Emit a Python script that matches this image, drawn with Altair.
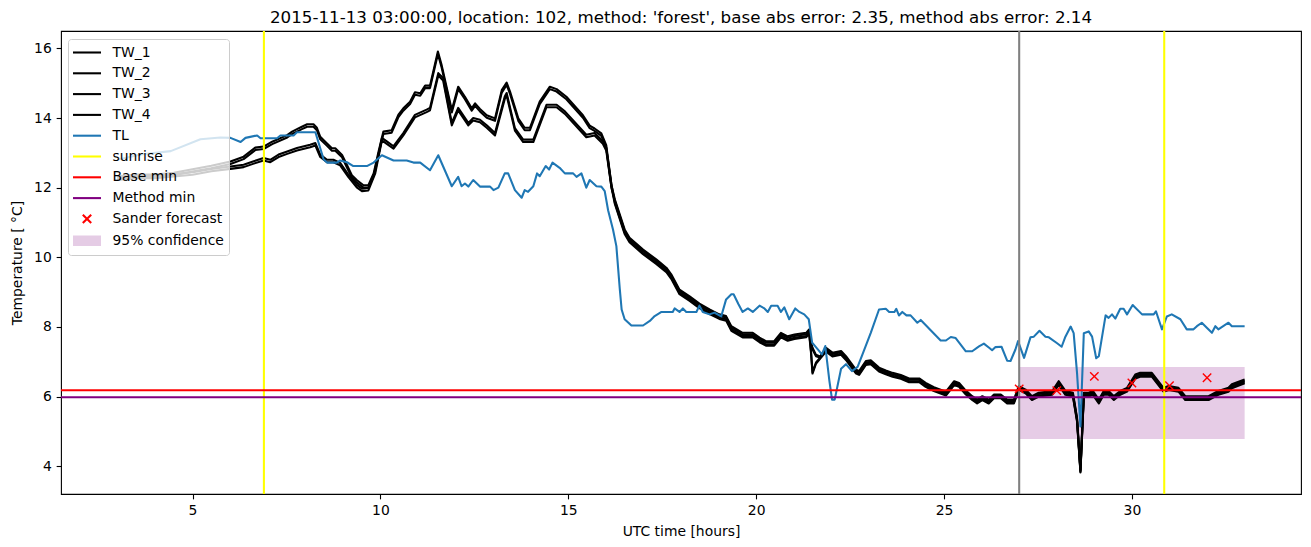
import altair as alt
import pandas as pd

FONT = "DejaVu Sans"

# ---------------- values ----------------
title_text = ("2015-11-13 03:00:00, location: 102, method: 'forest', "
              "base abs error: 2.35, method abs error: 2.14")
x_ticks = [5, 10, 15, 20, 25, 30]
y_ticks = [4, 6, 8, 10, 12, 14, 16]

# upper pair of TW lines before the evening decline
TW_upper_hours = [3.00, 3.50, 4.00, 4.50, 5.00, 5.50, 6.01, 6.36, 6.67, 6.89, 7.12, 7.52, 7.65, 7.78,
                  7.91, 8.05, 8.22, 8.31, 8.40, 8.58, 8.71, 8.80, 8.98, 9.11, 9.24, 9.37, 9.55, 9.68,
                  9.82, 9.95, 10.08, 10.30, 10.48, 10.61, 10.79, 10.92, 11.06, 11.19, 11.32, 11.53,
                  11.63, 11.90, 12.07, 12.25, 12.43, 12.52, 12.65, 12.83, 13.05, 13.23, 13.36, 13.45,
                  13.67, 13.84, 13.98, 14.24, 14.51, 14.69, 14.95, 15.39, 15.57, 15.70, 15.88, 16.01, 16.15]
TW_1_early = [12.33, 12.38, 12.38, 12.43, 12.53, 12.63, 12.75, 12.89, 13.15, 13.18, 13.32, 13.51, 13.61,
              13.68, 13.75, 13.82, 13.82, 13.72, 13.46, 13.27, 13.13, 13.13, 12.94, 12.65, 12.36, 12.22,
              12.07, 12.07, 12.41, 13.03, 13.61, 13.65, 14.10, 14.28, 14.47, 14.74, 14.71, 14.93, 14.93,
              15.91, 15.52, 14.23, 14.90, 14.61, 14.28, 14.42, 14.26, 14.08, 13.99, 14.80, 15.02, 14.76,
              13.99, 13.72, 13.72, 14.47, 14.90, 14.83, 14.61, 14.08, 13.78, 13.70, 13.56, 13.22, 12.07]
TW_2_early = [12.26, 12.31, 12.31, 12.36, 12.46, 12.56, 12.68, 12.82, 13.08, 13.11, 13.25, 13.44, 13.54,
              13.61, 13.68, 13.75, 13.75, 13.65, 13.39, 13.20, 13.06, 13.06, 12.87, 12.58, 12.29, 12.15,
              12.00, 12.00, 12.34, 12.96, 13.54, 13.58, 14.03, 14.21, 14.40, 14.67, 14.64, 14.86, 14.86,
              15.84, 15.45, 14.16, 14.83, 14.54, 14.21, 14.35, 14.19, 14.01, 13.92, 14.73, 14.95, 14.69,
              13.92, 13.65, 13.65, 14.40, 14.83, 14.76, 14.54, 14.01, 13.71, 13.63, 13.49, 13.15, 12.00]

# lower pair of TW lines before the evening decline
TW_lower_hours = [3.00, 3.50, 4.00, 4.50, 5.00, 5.50, 6.01, 6.36, 6.63, 6.89, 7.07, 7.29, 7.52, 7.78,
                  8.13, 8.27, 8.40, 8.58, 8.75, 8.93, 9.15, 9.37, 9.51, 9.68, 9.86, 10.04, 10.17, 10.35,
                  10.61, 10.92, 11.23, 11.32, 11.54, 11.67, 11.90, 12.07, 12.34, 12.47, 12.65, 12.83,
                  13.05, 13.31, 13.36, 13.58, 13.80, 14.07, 14.42, 14.69, 14.91, 15.48, 15.70, 15.92,
                  16.01, 16.15]
TW_3_early = [12.29, 12.34, 12.34, 12.39, 12.44, 12.54, 12.61, 12.66, 12.76, 12.85, 12.80, 12.95, 13.04,
              13.14, 13.23, 13.28, 12.95, 12.80, 12.80, 12.71, 12.37, 12.08, 11.97, 11.99, 12.47, 13.43,
              13.33, 13.19, 13.57, 14.09, 14.24, 14.29, 15.29, 15.15, 13.86, 14.29, 13.86, 14.00, 13.95,
              13.79, 13.57, 14.62, 14.72, 13.71, 13.38, 13.38, 14.38, 14.38, 14.19, 13.52, 13.57, 13.33,
              13.14, 12.08]
TW_4_early = [12.22, 12.27, 12.27, 12.32, 12.37, 12.47, 12.54, 12.59, 12.69, 12.78, 12.73, 12.88, 12.97,
              13.07, 13.16, 13.21, 12.88, 12.73, 12.73, 12.64, 12.30, 12.01, 11.90, 11.92, 12.40, 13.36,
              13.26, 13.12, 13.50, 14.02, 14.17, 14.22, 15.22, 15.08, 13.79, 14.22, 13.79, 13.93, 13.88,
              13.72, 13.50, 14.55, 14.65, 13.64, 13.31, 13.31, 14.31, 14.31, 14.12, 13.45, 13.50, 13.26,
              13.07, 12.01]

# all four TW lines from the decline onwards
TW_late_hours = [16.24, 16.50, 16.63, 16.99, 17.34, 17.61, 17.74, 17.96, 18.23, 18.49, 18.76, 19.02,
                 19.20, 19.34, 19.64, 19.91, 20.09, 20.26, 20.48, 20.66, 20.84, 21.02, 21.33, 21.41,
                 21.46, 21.50, 21.59, 21.70, 21.86, 22.03, 22.26, 22.39, 22.65, 22.74, 22.92, 23.05,
                 23.27, 23.45, 23.63, 23.85, 24.07, 24.34, 24.51, 24.73, 25.05, 25.27, 25.40, 25.58,
                 25.75, 25.88, 26.02, 26.19, 26.33, 26.51, 26.68, 26.86, 26.99, 27.17, 27.34, 27.52,
                 27.88, 28.05, 28.23, 28.43, 28.54, 28.63, 28.72, 28.85, 28.96, 29.12, 29.25, 29.38,
                 29.52, 29.69, 29.87, 30.09, 30.22, 30.53, 30.84, 30.98, 31.24, 31.42, 32.04, 32.30,
                 32.57, 32.66, 33.00]
TW_1_late = [11.66, 10.80, 10.56, 10.22, 9.94, 9.70, 9.51, 9.07, 8.88, 8.67, 8.50, 8.36, 8.31, 8.02,
             7.83, 7.83, 7.69, 7.59, 7.59, 7.83, 7.73, 7.78, 7.83, 7.93, 7.55, 7.40, 7.20, 7.15, 7.40,
             7.26, 7.31, 7.16, 6.78, 6.73, 7.02, 7.04, 6.83, 6.75, 6.68, 6.62, 6.52, 6.52, 6.39, 6.27,
             6.14, 6.44, 6.39, 6.17, 6.01, 5.91, 6.01, 5.91, 6.06, 6.06, 5.91, 5.91, 6.30, 6.20, 6.01,
             6.11, 6.16, 6.44, 6.16, 6.11, 5.39, 3.90, 6.11, 6.11, 6.16, 5.91, 6.16, 6.16, 6.01, 6.16,
             6.25, 6.63, 6.68, 6.68, 6.25, 6.30, 6.25, 6.01, 6.01, 6.16, 6.25, 6.35, 6.49]
TW_2_late = [11.62, 10.76, 10.52, 10.18, 9.90, 9.66, 9.47, 9.03, 8.84, 8.63, 8.46, 8.32, 8.27, 7.98,
             7.79, 7.79, 7.65, 7.55, 7.55, 7.79, 7.69, 7.74, 7.79, 7.89, 7.50, 7.35, 7.16, 7.12, 7.36,
             7.22, 7.27, 7.12, 6.74, 6.69, 6.98, 7.00, 6.79, 6.71, 6.64, 6.58, 6.48, 6.48, 6.35, 6.23,
             6.10, 6.40, 6.35, 6.13, 5.97, 5.87, 5.97, 5.87, 6.02, 6.02, 5.87, 5.87, 6.26, 6.16, 5.97,
             6.07, 6.12, 6.40, 6.12, 6.07, 5.35, 3.87, 6.07, 6.07, 6.12, 5.87, 6.12, 6.12, 5.97, 6.12,
             6.21, 6.59, 6.64, 6.64, 6.21, 6.26, 6.21, 5.97, 5.97, 6.12, 6.21, 6.31, 6.45]
TW_3_late = [11.57, 10.71, 10.47, 10.13, 9.85, 9.61, 9.42, 8.98, 8.79, 8.58, 8.41, 8.27, 8.22, 7.93,
             7.74, 7.74, 7.60, 7.50, 7.50, 7.74, 7.64, 7.69, 7.74, 7.84, 7.30, 6.70, 6.97, 7.12, 7.32,
             7.18, 7.23, 7.08, 6.70, 6.65, 6.94, 6.96, 6.75, 6.67, 6.60, 6.54, 6.44, 6.44, 6.31, 6.19,
             6.06, 6.36, 6.31, 6.09, 5.93, 5.83, 5.93, 5.83, 5.98, 5.98, 5.83, 5.83, 6.22, 6.12, 5.93,
             6.03, 6.08, 6.36, 6.08, 6.03, 5.31, 3.84, 6.03, 6.03, 6.08, 5.83, 6.08, 6.08, 5.93, 6.08,
             6.17, 6.55, 6.60, 6.60, 6.17, 6.22, 6.17, 5.93, 5.93, 6.08, 6.17, 6.27, 6.41]
TW_4_late = [11.53, 10.67, 10.43, 10.09, 9.81, 9.57, 9.38, 8.94, 8.75, 8.54, 8.37, 8.23, 8.18, 7.89,
             7.70, 7.70, 7.56, 7.46, 7.46, 7.70, 7.60, 7.65, 7.70, 7.80, 7.25, 6.66, 6.94, 7.08, 7.29,
             7.15, 7.20, 7.05, 6.67, 6.62, 6.91, 6.93, 6.72, 6.64, 6.57, 6.51, 6.41, 6.41, 6.28, 6.16,
             6.03, 6.33, 6.28, 6.06, 5.90, 5.80, 5.90, 5.80, 5.95, 5.95, 5.80, 5.80, 6.19, 6.09, 5.90,
             6.00, 6.05, 6.33, 6.05, 6.00, 5.28, 3.82, 6.00, 6.00, 6.05, 5.80, 6.05, 6.05, 5.90, 6.05,
             6.14, 6.52, 6.57, 6.57, 6.14, 6.19, 6.14, 5.90, 5.90, 6.05, 6.14, 6.24, 6.38]

# TL readings: (hour, temperature)
TL_readings = [
    (3.00, 12.80), (3.62, 12.95), (4.42, 13.05), (5.21, 13.39), (5.74, 13.44), (6.01, 13.43),
    (6.28, 13.31), (6.41, 13.43), (6.72, 13.50), (6.81, 13.42), (7.25, 13.42), (7.34, 13.50),
    (7.69, 13.50), (7.78, 13.59), (8.27, 13.59), (8.49, 12.81), (8.58, 12.72), (8.84, 12.72),
    (8.93, 12.78), (9.11, 12.73), (9.28, 12.62), (9.64, 12.62), (9.82, 12.72), (10.04, 12.93),
    (10.35, 12.78), (10.70, 12.78), (10.88, 12.72), (11.06, 12.72), (11.32, 12.50), (11.54, 12.93),
    (11.90, 12.04), (12.07, 12.31), (12.16, 12.04), (12.25, 12.12), (12.34, 12.03), (12.47, 12.22),
    (12.65, 12.03), (12.92, 12.03), (13.01, 11.93), (13.14, 12.00), (13.31, 12.41), (13.40, 12.41),
    (13.58, 11.93), (13.76, 11.71), (13.84, 11.93), (13.93, 11.88), (14.07, 12.04), (14.17, 12.41),
    (14.24, 12.33), (14.40, 12.62), (14.49, 12.52), (14.58, 12.72), (14.77, 12.57), (14.91, 12.41),
    (15.13, 12.41), (15.22, 12.31), (15.35, 12.41), (15.48, 12.00), (15.57, 12.22), (15.75, 12.04),
    (15.88, 12.03), (15.97, 11.90), (16.06, 11.35), (16.19, 10.80), (16.28, 10.32), (16.37, 9.10),
    (16.42, 8.50), (16.50, 8.22), (16.68, 8.04), (16.99, 8.04), (17.17, 8.17), (17.30, 8.31),
    (17.48, 8.43), (17.78, 8.43), (17.83, 8.53), (17.96, 8.43), (18.05, 8.53), (18.14, 8.43),
    (18.41, 8.43), (18.49, 8.61), (18.58, 8.43), (18.76, 8.36), (18.89, 8.41), (19.07, 8.30),
    (19.20, 8.79), (19.34, 8.94), (19.40, 8.94), (19.53, 8.65), (19.64, 8.43), (19.78, 8.53),
    (19.91, 8.43), (20.09, 8.61), (20.22, 8.53), (20.31, 8.43), (20.40, 8.61), (20.57, 8.61),
    (20.66, 8.43), (20.75, 8.56), (20.88, 8.22), (21.04, 8.53), (21.15, 8.43), (21.28, 8.36),
    (21.40, 8.22), (21.49, 7.55), (21.63, 7.37), (21.75, 7.21), (21.84, 7.45), (21.95, 6.44),
    (22.02, 5.91), (22.09, 5.91), (22.26, 6.80), (22.39, 6.93), (22.55, 6.73), (22.70, 6.85),
    (22.83, 7.21), (23.05, 7.83), (23.27, 8.50), (23.45, 8.52), (23.54, 8.43), (23.68, 8.43),
    (23.73, 8.52), (23.80, 8.33), (23.89, 8.43), (24.00, 8.33), (24.11, 8.33), (24.29, 8.12),
    (24.38, 8.20), (24.91, 7.61), (25.05, 7.61), (25.18, 7.71), (25.31, 7.68), (25.58, 7.30),
    (25.75, 7.30), (25.93, 7.44), (26.06, 7.52), (26.20, 7.40), (26.28, 7.33), (26.37, 7.42),
    (26.53, 7.43), (26.68, 7.03), (26.77, 7.02), (26.90, 7.35), (26.97, 7.59), (27.13, 7.11),
    (27.30, 7.70), (27.39, 7.72), (27.54, 7.89), (27.70, 7.72), (27.79, 7.70), (28.01, 7.53),
    (28.13, 7.43), (28.23, 7.72), (28.37, 8.01), (28.45, 7.82), (28.54, 6.67), (28.63, 5.14),
    (28.72, 7.82), (28.85, 7.87), (28.94, 7.72), (29.05, 7.10), (29.12, 7.16), (29.30, 8.33),
    (29.38, 8.26), (29.47, 8.36), (29.56, 8.24), (29.69, 8.52), (29.78, 8.52), (29.87, 8.36),
    (30.02, 8.63), (30.27, 8.36), (30.58, 8.36), (30.64, 8.45), (30.80, 7.93), (30.93, 8.30),
    (31.06, 8.36), (31.29, 8.22), (31.46, 7.93), (31.64, 7.93), (31.73, 8.02), (31.86, 8.12),
    (32.00, 7.97), (32.13, 7.83), (32.22, 8.02), (32.30, 7.93), (32.57, 8.12), (32.66, 8.02),
    (33.00, 8.02),
]

sunrise_hours = [6.90, 30.86]
forecast_hour = [27.0]
base_min = [6.18]
method_min = [5.98]
sander_hours = [27, 28, 29, 30, 31, 32]
sander_temp = [6.22, 6.17, 6.58, 6.39, 6.31, 6.54]
conf_start, conf_end = [27.0], [33.0]
conf_low, conf_high = [4.78], [6.85]

legend_labels = ["TW_1", "TW_2", "TW_3", "TW_4", "TL", "sunrise", "Base min",
                 "Method min", "Sander forecast", "95% confidence"]
legend_colors = ["black", "black", "black", "black", "#1f77b4", "yellow", "red",
                 "purple", "red", "#e5cce5"]

# ---------------- symbol paths (styles) ----------------
LINE = "M-2,0H2"
XMARK = "M-0.6,-0.6L0.6,0.6M-0.6,0.6L0.6,-0.6"
PATCH = "".join("M-2,%.2fH2" % (k / 10.0) for k in range(-6, 7))
legend_shapes = [LINE] * 8 + [XMARK, PATCH]

# ---------------- tables ----------------
rows = []
for name, hrs, vals in [
    ("TW_1", TW_upper_hours + TW_late_hours, TW_1_early + TW_1_late),
    ("TW_2", TW_upper_hours + TW_late_hours, TW_2_early + TW_2_late),
    ("TW_3", TW_lower_hours + TW_late_hours, TW_3_early + TW_3_late),
    ("TW_4", TW_lower_hours + TW_late_hours, TW_4_early + TW_4_late),
]:
    rows += [{"hour": h, "temp": v, "series": name} for h, v in zip(hrs, vals)]
tw_df = pd.DataFrame(rows)
tl_df = pd.DataFrame({"hour": [p[0] for p in TL_readings],
                      "temp": [p[1] for p in TL_readings], "series": "TL"})
sun_df = pd.DataFrame({"hour": sunrise_hours, "series": "sunrise"})
now_df = pd.DataFrame({"hour": forecast_hour})
base_df = pd.DataFrame({"temp": base_min, "series": "Base min"})
meth_df = pd.DataFrame({"temp": method_min, "series": "Method min"})
sander_df = pd.DataFrame({"hour": sander_hours, "temp": sander_temp, "series": "Sander forecast"})
conf_df = pd.DataFrame({"hour": conf_start, "hour_end": conf_end,
                        "temp": conf_low, "temp_high": conf_high})

# ---------------- encodings ----------------
LW = 2.08
xs = alt.Scale(domain=[1.5, 34.5], nice=False, zero=False)
ys = alt.Scale(domain=[3.2, 16.5], nice=False, zero=False)
X = alt.X("hour:Q", scale=xs, title="UTC time [hours]",
          axis=alt.Axis(values=x_ticks, format="d"))
Y = alt.Y("temp:Q", scale=ys, title="Temperature [ °C]",
          axis=alt.Axis(values=y_ticks, format="d"))
leg = alt.Legend(title=None, orient="none", legendX=7, legendY=8, direction="vertical")
stroke_scale = alt.Scale(domain=legend_labels, range=legend_colors)
shape_scale = alt.Scale(domain=legend_labels, range=legend_shapes)
S = alt.Stroke("series:N", scale=stroke_scale, legend=leg)

rect = alt.Chart(conf_df).mark_rect(color="purple", opacity=0.2).encode(
    x=X, x2="hour_end:Q", y=Y, y2="temp_high:Q")
tw = alt.Chart(tw_df).mark_line(strokeWidth=LW, strokeJoin="round").encode(x=X, y=Y, stroke=S)
tl = alt.Chart(tl_df).mark_line(strokeWidth=LW, strokeJoin="round").encode(x=X, y=Y, stroke=S)
now = alt.Chart(now_df).mark_rule(color="gray", strokeWidth=LW).encode(x=X)
sun = alt.Chart(sun_df).mark_rule(strokeWidth=LW).encode(x=X, stroke=S)
base = alt.Chart(base_df).mark_rule(strokeWidth=LW).encode(y=Y, stroke=S)
meth = alt.Chart(meth_df).mark_rule(strokeWidth=LW).encode(y=Y, stroke=S)
sander = alt.Chart(sander_df).mark_point(filled=False, size=196, strokeWidth=1.4, opacity=1).encode(
    x=X, y=Y, stroke=S, shape=alt.Shape("series:N", scale=shape_scale, legend=leg))

chart = alt.layer(rect, tw, tl, now, sun, base, meth, sander).properties(
    width=1240, height=463,
    title=alt.TitleParams(text=title_text, font=FONT, fontSize=16.7, fontWeight="normal",
                          color="black", anchor="middle", frame="group", offset=8.3,
                          baseline="alphabetic", dy=18),
    padding={"left": 61, "top": 31, "right": 10, "bottom": 53},
    autosize=alt.AutoSizeParams(type="none"),
    background="white",
).configure_view(
    stroke="black", strokeWidth=1.1
).configure_axis(
    labelFont=FONT, labelFontSize=13.9, labelColor="black",
    titleFont=FONT, titleFontSize=13.9, titleFontWeight="normal", titleColor="black",
    tickColor="black", tickWidth=1.1, tickSize=4.86, domain=False, grid=False,
).configure_axisX(
    labelPadding=4.3, titlePadding=7
).configure_axisY(
    labelPadding=4.86, titlePadding=9.6
).configure_legend(
    padding=5, fillColor="rgba(255,255,255,0.8)", strokeColor="#cccccc", cornerRadius=3,
    labelFont=FONT, labelFontSize=13.9, labelColor="black", labelLimit=300,
    symbolSize=196, symbolStrokeWidth=LW, symbolOffset=5.5, labelOffset=17, rowPadding=4.8,
)

chart.save("out.html", embed_options={"renderer": "svg", "actions": False})
